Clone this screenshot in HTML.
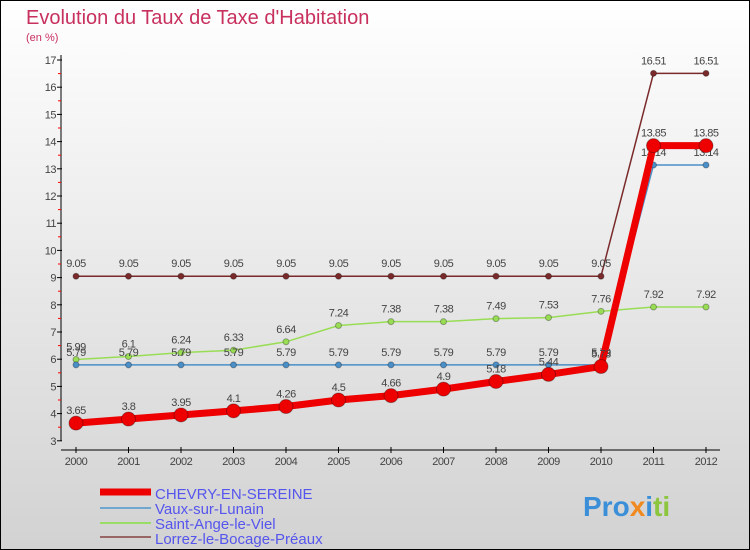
<!DOCTYPE html>
<html><head><meta charset="utf-8"><style>
body{margin:0;width:750px;height:550px;overflow:hidden}
svg{display:block;font-family:"Liberation Sans",sans-serif}
</style></head><body>
<svg width="750" height="550">
<defs><linearGradient id="bg" x1="0" y1="0" x2="0" y2="1"><stop offset="0" stop-color="#ffffff"/><stop offset="1" stop-color="#d2d2d2"/></linearGradient></defs>
<rect x="0.5" y="0.5" width="749" height="549" fill="url(#bg)" stroke="#000"/>
<text x="26" y="24" font-size="20" fill="#c8305e">Evolution du Taux de Taxe d'Habitation</text>
<text x="26" y="41" font-size="11" fill="#c8305e">(en %)</text>
<g id="axes"></g><g id="series"></g>
<g>
<line x1="100" y1="492" x2="151" y2="492" stroke="#ee0000" stroke-width="7"/>
<text x="155" y="499" font-size="15" fill="#5555ee">CHEVRY-EN-SEREINE</text>
<line x1="100" y1="508" x2="151" y2="508" stroke="#6fa7cf" stroke-width="2"/>
<text x="155" y="514" font-size="15" fill="#5555ee">Vaux-sur-Lunain</text>
<line x1="100" y1="523" x2="151" y2="523" stroke="#99dd66" stroke-width="2"/>
<text x="155" y="529" font-size="15" fill="#5555ee">Saint-Ange-le-Viel</text>
<line x1="100" y1="537" x2="151" y2="537" stroke="#996666" stroke-width="2"/>
<text x="155" y="544" font-size="15" fill="#5555ee">Lorrez-le-Bocage-Préaux</text>
</g>
<g font-size="28" font-weight="bold">
<text x="583" y="516"><tspan fill="#3a8fd8">Pro</tspan><tspan fill="#f08a20">x</tspan><tspan fill="#3a8fd8">i</tspan><tspan fill="#8cc63f">ti</tspan></text>
</g>
</svg>
<script>
const years=[2000,2001,2002,2003,2004,2005,2006,2007,2008,2009,2010,2011,2012];
const chevry=[3.65,3.8,3.95,4.1,4.26,4.5,4.66,4.9,5.18,5.44,5.73,13.85,13.85];
const vaux=[5.79,5.79,5.79,5.79,5.79,5.79,5.79,5.79,5.79,5.79,5.79,13.14,13.14];
const saintAnge=[5.99,6.1,6.24,6.33,6.64,7.24,7.38,7.38,7.49,7.53,7.76,7.92,7.92];
const lorrez=[9.05,9.05,9.05,9.05,9.05,9.05,9.05,9.05,9.05,9.05,9.05,16.51,16.51];
const yTicks=[3,4,5,6,7,8,9,10,11,12,13,14,15,16,17];
const NS="http://www.w3.org/2000/svg";
const x=i=>76+i*52.5, y=v=>60+(17-v)*27.2;
function mk(t,a,p){const e=document.createElementNS(NS,t);for(const k in a)e.setAttribute(k,a[k]);p.appendChild(e);return e;}
const ax=document.getElementById('axes');
mk('line',{x1:61,y1:55,x2:61,y2:441,stroke:'#000'},ax);
mk('line',{x1:61,y1:450,x2:720,y2:450,stroke:'#000'},ax);
yTicks.forEach(v=>{mk('line',{x1:57,y1:y(v),x2:62,y2:y(v),stroke:'#000'},ax);
 if(v<17)mk('line',{x1:58,y1:y(v+0.5),x2:61,y2:y(v+0.5),stroke:'#f00'},ax);
 const t=mk('text',{x:56,y:y(v)+4,'font-size':11,fill:'#444','text-anchor':'end','letter-spacing':'-0.5'},ax);t.textContent=v;
 
 });
years.forEach((yr,i)=>{mk('line',{x1:x(i),y1:447,x2:x(i),y2:453,stroke:'#000'},ax);
 const t=mk('text',{x:x(i),y:465,'font-size':11,fill:'#444','text-anchor':'middle','letter-spacing':'-0.5'},ax);t.textContent=yr;
 
 });
const sg=document.getElementById('series');
function series(d,col,w,r,name){
 const g=mk('g',{},sg);
 
 
 mk('polyline',{points:d.map((v,i)=>x(i)+','+y(v)).join(' '),fill:'none',stroke:col,'stroke-width':w,'stroke-linejoin':'round'},g);
 d.forEach((v,i)=>{const c=mk('circle',{cx:x(i),cy:y(v),r:r,fill:col,stroke:'rgba(0,0,0,0.3)'},g);
  
  
  const t=mk('text',{x:x(i),y:y(v)-9,'font-size':11,fill:'#444','text-anchor':'middle','letter-spacing':'-0.5'},g);t.textContent=v;
  
  });
}
series(lorrez,'#7a2a2a',1.5,3,'series-lorrez');
series(saintAnge,'#99dd55',1.5,3,'series-saint-ange');
series(vaux,'#4a8fc8',1.5,3,'series-vaux');
series(chevry,'#ee0000',7,7,'series-chevry');
</script>
</body></html>
